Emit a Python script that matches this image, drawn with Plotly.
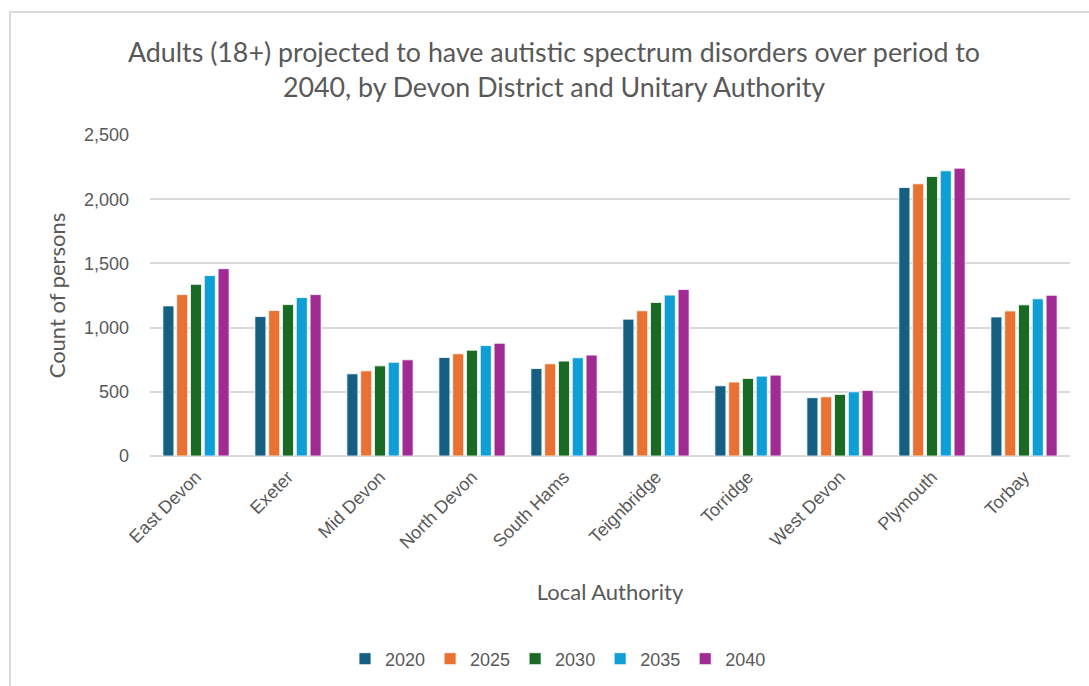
import plotly.graph_objects as go

authorities = ["East Devon", "Exeter", "Mid Devon", "North Devon", "South Hams",
               "Teignbridge", "Torridge", "West Devon", "Plymouth", "Torbay"]
years = ["2020", "2025", "2030", "2035", "2040"]

v2020 = [1169, 1086, 640, 767, 681, 1066, 547, 454, 2091, 1083]
v2025 = [1257, 1133, 663, 796, 718, 1131, 576, 461, 2120, 1130]
v2030 = [1337, 1179, 702, 824, 739, 1196, 604, 480, 2177, 1177]
v2035 = [1405, 1234, 730, 860, 765, 1253, 622, 500, 2221, 1224]
v2040 = [1459, 1257, 749, 878, 786, 1297, 630, 511, 2242, 1252]
series = [v2020, v2025, v2030, v2035, v2040]
colors = ["#156082", "#E97132", "#196B24", "#0F9ED5", "#A02B93"]

W, H = 1089, 686
L, R, T, B = 150, 19, 135, 230

fig = go.Figure()
for yr, vals, col in zip(years, series, colors):
    fig.add_trace(go.Bar(
        name=yr, x=authorities, y=vals,
        marker=dict(color=col, line=dict(color="rgba(255,255,255,0.8)", width=1)),
    ))

pw, ph = W - L - R, H - T - B
def px(x):
    return (x - L) / pw
def py(y):
    return (H - B - y) / ph

# light frame around the chart area
fig.add_shape(type="rect", xref="paper", yref="paper",
              x0=px(10), x1=px(1095), y0=py(12), y1=py(700),
              line=dict(color="#D9D9D9", width=2), fillcolor="rgba(0,0,0,0)")

fig.update_layout(
    width=W, height=H,
    margin=dict(l=L, r=R, t=T, b=B),
    paper_bgcolor="white", plot_bgcolor="white",
    barmode="group", bargap=0.25, bargroupgap=0.2,
    font=dict(family="Liberation Sans, Arial, sans-serif", color="#595959"),
    title=dict(
        text="Adults (18+) projected to have autistic spectrum disorders over period to<br>2040, by Devon District and Unitary Authority",
        x=554 / W, xref="container", xanchor="center",
        y=1 - 62 / H, yref="container", yanchor="middle",
        font=dict(family="Lato, Open Sans, sans-serif", size=26.8, color="#595959"),
    ),
    xaxis=dict(
        tickangle=-45, tickfont=dict(size=18, color="#595959"),
        showgrid=False, showline=False, ticks="", ticklabelstandoff=6,
        title=dict(text="Local Authority", font=dict(family="Lato, sans-serif", size=22, color="#595959"), standoff=32),
    ),
    yaxis=dict(
        range=[0, 2500], dtick=500, tickformat=",",
        tickfont=dict(size=18, color="#595959"),
        gridcolor="#D9D9D9", gridwidth=1.5,
        zeroline=True, zerolinecolor="#D9D9D9", zerolinewidth=1.5,
        showline=False, ticks="", ticklen=0, ticklabelstandoff=20,
        title=dict(text="Count of persons", font=dict(family="Lato, sans-serif", size=22, color="#595959"), standoff=12),
    ),
    legend=dict(
        orientation="h", x=558 / W, xref="container", xanchor="center",
        y=1 - 659 / H, yref="container", yanchor="middle",
        font=dict(size=18, color="#595959"), itemwidth=30,
    ),
)

fig.write_html("out.html")
